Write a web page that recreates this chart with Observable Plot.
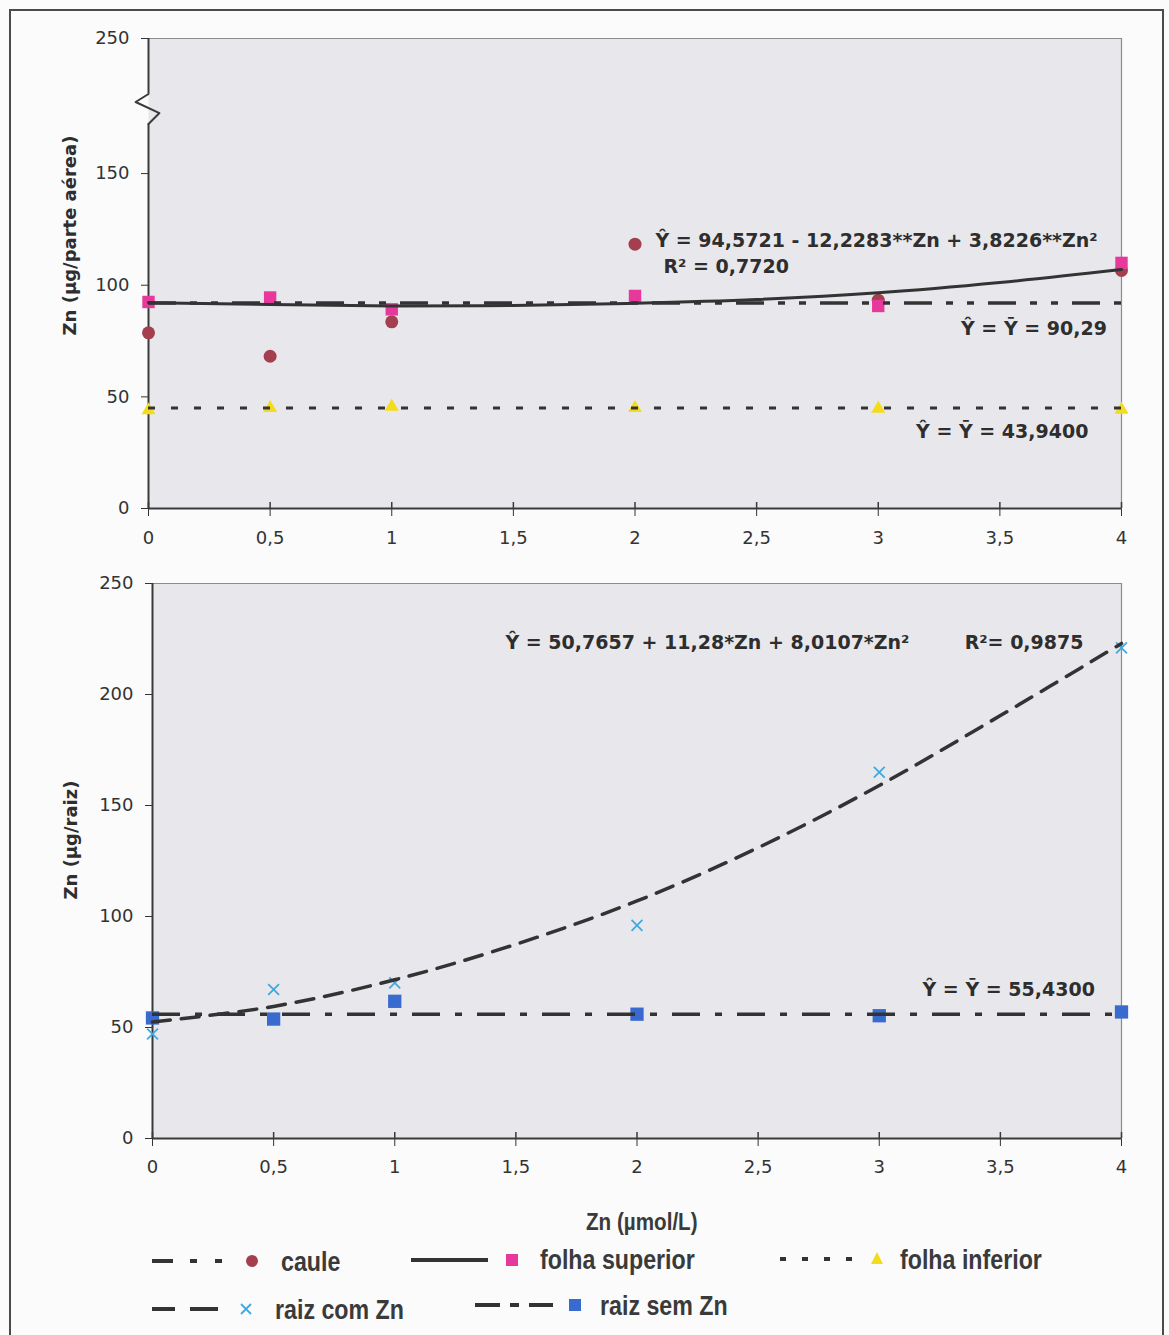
<!DOCTYPE html>
<html>
<head>
<meta charset="utf-8">
<script src="https://cdn.jsdelivr.net/npm/d3@7"></script>
<script src="https://cdn.jsdelivr.net/npm/@observablehq/plot@0.6"></script>
<style>
  html, body { margin: 0; padding: 0; background: #fbfbfc; }
  #page { position: relative; width: 1169px; height: 1335px; overflow: hidden; background: #fbfbfc; }
  #border { position: absolute; left: 9px; top: 9px; width: 1155px; height: 1400px; border: 2px solid #4a4a4a; box-sizing: border-box; }
  #top, #bottom, #legend { position: absolute; left: 0; }
  #top { top: 0; }
  #bottom { top: 560px; }
  #legend { top: 1180px; }
</style>
</head>
<body>
<div id="page">
  <div id="border"></div>
  <div id="top"></div>
  <div id="bottom"></div>
  <div id="legend"></div>
</div>
<script>
// ---------- data ----------
const doses = [0, 0.5, 1, 2, 3, 4];
const caule = [78.7, 68.2, 83.6, 118.4, 93.3, 106.6];
const folhaSuperior = [92.5, 94.5, 89.2, 95.2, 90.7, 110.0];
const folhaInferior = [44.0, 45.0, 45.6, 45.0, 44.7, 44.2];
const raizComZn = [47.1, 67.1, 70.1, 96.0, 165.0, 221.0];
const raizSemZn = [54.3, 53.8, 61.8, 56.0, 55.3, 57.0];

// fitted curves
const fitX = [0, 0.5, 1, 1.5, 2, 2.5, 3, 3.5, 4];
const folhaSuperiorFit = [92.2, 91.4, 90.7, 90.9, 91.9, 93.6, 96.6, 101.2, 107.0];
const raizComZnFit = [52.5, 59.5, 71.5, 87.5, 107.0, 131.0, 159.0, 190.5, 223.0];
const cauleMean = 92.0;
const folhaInferiorMean = 45.0;
const raizSemZnMean = 56.0;

// ticks
const xTicks = [0, 0.5, 1, 1.5, 2, 2.5, 3, 3.5, 4];
const yTicksTop = [0, 50, 100, 150, 250];
const yTicksBottom = [0, 50, 100, 150, 200, 250];

// broken y axis of the top chart: above the break, 100 units are drawn compressed
const breakStart = 150;
const breakCompression = 0.605;
const warp = v => v <= breakStart ? v : breakStart + (v - breakStart) * breakCompression;
const unwarp = w => w <= breakStart ? w : breakStart + (w - breakStart) / breakCompression;

// y-axis break symbol on the top chart
const axisBreakX = [0, -0.053, 0.045, 0];
const axisBreakY = [208.9, 203, 194.8, 186.7];
const axisSegY1 = [0, 208.9];
const axisSegY2 = [186.7, 250];

// equations
const topLabelText = [
  "Ŷ = 94,5721 - 12,2283**Zn + 3,8226**Zn²",
  "R² = 0,7720",
  "Ŷ = Ȳ = 90,29",
  "Ŷ = Ȳ = 43,9400"
];
const topLabelX = [2.084, 2.117, 3.94, 3.864];
const topLabelY = [120.0, 108.4, 80.6, 34.2];
const topLabelAnchor = ["start", "start", "end", "end"];

const bottomLabelText = [
  "Ŷ = 50,7657 + 11,28*Zn + 8,0107*Zn²",
  "R²= 0,9875",
  "Ŷ = Ȳ = 55,4300"
];
const bottomLabelX = [1.457, 3.843, 3.89];
const bottomLabelY = [223.4, 223.4, 67.1];
const bottomLabelAnchor = ["start", "end", "end"];

const yTitleTop = "Zn (µg/parte aérea)";
const yTitleBottom = "Zn (µg/raiz)";
const xTitle = "Zn (µmol/L)";
const seriesNames = ["caule", "folha superior", "folha inferior", "raiz com Zn", "raiz sem Zn"];

// ---------- styles ----------
const colCaule = "#a33f4f";
const colSup = "#e6399b";
const colInf = "#f3dc1c";
const colCom = "#3fa9e0";
const colSem = "#386ad0";
const lineCol = "#333333";
const axisCol = "#3a3a3a";
const bg = "#e8e8ec";
const fmt = d => String(d).replace(".", ",");
const eqFont = {fontFamily: "DejaVu Sans", fontWeight: "bold", fontSize: 19, fill: "#2e2e2e"};

const dashCaule = "28,14,7,14,7,14";
const dashInf = "7,16";
const dashCom = "18,11";
const dashSem = "28,15,7,15";

// ---------- tables ----------
const topPts = doses.map((x, i) => ({x, caule: caule[i], sup: folhaSuperior[i], inf: folhaInferior[i]}));
const botPts = doses.map((x, i) => ({x, com: raizComZn[i], sem: raizSemZn[i]}));
const supFit = fitX.map((x, i) => ({x, y: folhaSuperiorFit[i]}));
const comFit = fitX.map((x, i) => ({x, y: raizComZnFit[i]}));
const brk = axisBreakX.map((x, i) => ({x, y: axisBreakY[i]}));
const axisSegs = axisSegY1.map((y1, i) => ({y1, y2: axisSegY2[i]}));
const topLabels = topLabelText.map((t, i) => ({t, x: topLabelX[i], y: topLabelY[i], a: topLabelAnchor[i]}));
const botLabels = bottomLabelText.map((t, i) => ({t, x: bottomLabelX[i], y: bottomLabelY[i], a: bottomLabelAnchor[i]}));

const baseStyle = {fontFamily: "DejaVu Sans", fontSize: "18px", color: "#333", background: "transparent", overflow: "visible"};
const titleFont = {fontFamily: "DejaVu Sans", fontWeight: "bold", fontSize: 18, fill: "#2e2e2e"};

// ---------- top chart (broken y axis) ----------
const wy = key => d => warp(d[key]);
const topPlot = Plot.plot({
  width: 1169, height: 560,
  marginLeft: 148, marginRight: 48, marginTop: 38, marginBottom: 52,
  style: baseStyle,
  x: {domain: [0, 4], ticks: xTicks, tickFormat: fmt, tickSize: 8, tickPadding: 15, label: null},
  y: {domain: [0, warp(250)], ticks: yTicksTop.map(warp), tickFormat: w => String(Math.round(unwarp(w))),
      tickSize: 7, tickPadding: 12, label: null},
  marks: [
    Plot.frame({fill: bg, stroke: "none"}),
    Plot.ruleY([warp(250)], {stroke: "#8c8c8c", strokeWidth: 1.2}),
    Plot.ruleX([4], {stroke: "#8c8c8c", strokeWidth: 1.2}),
    Plot.ruleY([0], {stroke: axisCol, strokeWidth: 2}),
    Plot.ruleX(axisSegs, {x: 0, y1: wy("y1"), y2: wy("y2"), stroke: axisCol, strokeWidth: 2}),
    Plot.line(brk, {x: "x", y: wy("y"), stroke: axisCol, strokeWidth: 2}),
    Plot.ruleX(xTicks, {x: d => d, y1: 0, y2: 0, insetTop: -6, insetBottom: 0, stroke: axisCol, strokeWidth: 1.5}),
    Plot.dot(topPts, {x: "x", y: wy("inf"), symbol: "triangle", r: 5.2, fill: colInf, stroke: "none"}),
    Plot.dot(topPts, {x: "x", y: wy("caule"), symbol: "circle", r: 6.5, fill: colCaule, stroke: "none"}),
    Plot.dot(topPts, {x: "x", y: wy("sup"), symbol: "square", r: 7, fill: colSup, stroke: "none"}),
    Plot.ruleY([warp(cauleMean)], {x1: 0, x2: 4, stroke: lineCol, strokeWidth: 3.5, strokeDasharray: dashCaule}),
    Plot.ruleY([warp(folhaInferiorMean)], {x1: 0, x2: 4, stroke: lineCol, strokeWidth: 3, strokeDasharray: dashInf}),
    Plot.line(supFit, {x: "x", y: wy("y"), curve: "catmull-rom", stroke: lineCol, strokeWidth: 3}),
    Plot.text(topLabels, {x: "x", y: wy("y"), text: "t", textAnchor: "start", filter: d => d.a === "start", ...eqFont}),
    Plot.text(topLabels, {x: "x", y: wy("y"), text: "t", textAnchor: "end", filter: d => d.a === "end", ...eqFont}),
    Plot.text([yTitleTop], {text: d => d, frameAnchor: "left", textAnchor: "middle", dx: -78, dy: -38, rotate: -90, ...titleFont})
  ]
});
document.getElementById("top").appendChild(topPlot);

// ---------- bottom chart ----------
const botPlot = Plot.plot({
  width: 1169, height: 680,
  marginLeft: 152, marginRight: 48, marginTop: 23, marginBottom: 102,
  style: baseStyle,
  x: {domain: [0, 4], ticks: xTicks, tickFormat: fmt, tickSize: 8, tickPadding: 14, label: null},
  y: {domain: [0, 250], ticks: yTicksBottom, tickSize: 7, tickPadding: 12, label: null},
  marks: [
    Plot.frame({fill: bg, stroke: "none"}),
    Plot.ruleY([250], {stroke: "#8c8c8c", strokeWidth: 1.2}),
    Plot.ruleX([4], {stroke: "#8c8c8c", strokeWidth: 1.2}),
    Plot.ruleY([0], {stroke: axisCol, strokeWidth: 2}),
    Plot.ruleX([0], {stroke: axisCol, strokeWidth: 2}),
    Plot.ruleX(xTicks, {x: d => d, y1: 0, y2: 0, insetTop: -6, insetBottom: 0, stroke: axisCol, strokeWidth: 1.5}),
    Plot.dot(botPts, {x: "x", y: "com", symbol: "times", r: 5, stroke: colCom, strokeWidth: 1.8}),
    Plot.dot(botPts, {x: "x", y: "sem", symbol: "square", r: 7.5, fill: colSem, stroke: "none"}),
    Plot.ruleY([raizSemZnMean], {x1: 0, x2: 4, stroke: lineCol, strokeWidth: 3.5, strokeDasharray: dashSem}),
    Plot.line(comFit, {x: "x", y: "y", curve: "catmull-rom", stroke: lineCol, strokeWidth: 3.5, strokeDasharray: dashCom}),
    Plot.text(botLabels, {x: "x", y: "y", text: "t", textAnchor: "start", filter: d => d.a === "start", ...eqFont}),
    Plot.text(botLabels, {x: "x", y: "y", text: "t", textAnchor: "end", filter: d => d.a === "end", ...eqFont}),
    Plot.text([yTitleBottom], {text: d => d, frameAnchor: "left", textAnchor: "middle", dx: -81, dy: -21, rotate: -90, ...titleFont})
  ]
});
document.getElementById("bottom").appendChild(botPlot);

// ---------- axis title + legend ----------
const leg = d3.select("#legend").append("svg").attr("width", 1169).attr("height", 155)
  .style("display", "block").style("overflow", "visible");
const oy = 1180;
const txt = (x, y, s, size) => leg.append("text")
  .attr("transform", `translate(${x},${y - oy}) scale(0.86,1)`)
  .attr("dominant-baseline", "central")
  .attr("font-family", "Liberation Sans, Arial, sans-serif")
  .attr("font-weight", "bold").attr("font-size", size).attr("fill", "#3a3a3a").text(s);
const seg = (x1, x2, y, dash) => leg.append("line").attr("x1", x1).attr("x2", x2)
  .attr("y1", y - oy).attr("y2", y - oy).attr("stroke", lineCol).attr("stroke-width", 4)
  .attr("stroke-dasharray", dash);

txt(586, 1222, xTitle, 24);

// caule
seg(152, 222, 1261, "21,17,7,18,7,100");
leg.append("circle").attr("cx", 252).attr("cy", 1261 - oy).attr("r", 6).attr("fill", colCaule);
txt(281, 1261, seriesNames[0], 27);
// folha superior
seg(411, 488, 1260, null);
leg.append("rect").attr("x", 506).attr("y", 1254 - oy).attr("width", 12).attr("height", 12).attr("fill", colSup);
txt(540, 1259, seriesNames[1], 27);
// folha inferior
seg(780, 852, 1259, "6,16");
leg.append("path").attr("d", `M${877},${1252 - oy}L${883},${1264 - oy}L${871},${1264 - oy}Z`).attr("fill", colInf);
txt(900, 1259, seriesNames[2], 27);
// raiz com Zn
seg(152, 218, 1309, "23,15,28");
leg.append("path").attr("d", `M241,${1304 - oy}L251,${1314 - oy}M251,${1304 - oy}L241,${1314 - oy}`)
  .attr("stroke", colCom).attr("stroke-width", 1.8);
txt(275, 1309, seriesNames[3], 27);
// raiz sem Zn
seg(475, 553, 1305, "25,10,9,10,25");
leg.append("rect").attr("x", 569).attr("y", 1299 - oy).attr("width", 12).attr("height", 12).attr("fill", colSem);
txt(600, 1305, seriesNames[4], 27);
</script>
</body>
</html>
